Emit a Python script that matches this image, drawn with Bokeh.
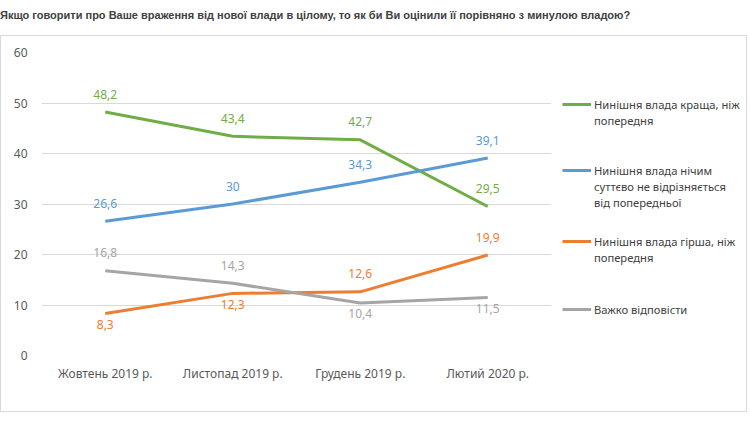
from bokeh.plotting import figure
from bokeh.models import (ColumnDataSource, Range1d, Legend, LegendItem, LabelSet,
                          Div, SingleIntervalTicker)
from bokeh.core.properties import value
from bokeh.layouts import column, row
from bokeh.embed import file_html
from bokeh.resources import INLINE

title_text = "Якщо говорити про Ваше враження від нової влади в цілому, то як би Ви оцінили її порівняно з минулою владою?"
categories = ["Жовтень 2019 р.", "Листопад 2019 р.", "Грудень 2019 р.", "Лютий 2020 р."]

better = [48.2, 43.4, 42.7, 29.5]
same = [26.6, 30.0, 34.3, 39.1]
worse = [8.3, 12.3, 12.6, 19.9]
hard = [16.8, 14.3, 10.4, 11.5]

series_names = [
    "Нинішня влада краща, ніж\nпопередня",
    "Нинішня влада нічим\nсуттєво не відрізняється\nвід попередньої",
    "Нинішня влада гірша, ніж\nпопередня",
    "Важко відповісти",
]
series_values = [better, same, worse, hard]
colors = ["#70AD47", "#5B9BD5", "#ED7D31", "#A5A5A5"]
# label placement relative to point (style)
placements = [
    ["above", "above", "above", "above"],
    ["above", "above", "above", "above"],
    ["below", "below", "above", "above"],
    ["above", "above", "below", "below"],
]

FONT = "Noto Sans"
TXT = "#595959"

p = figure(x_range=categories, y_range=Range1d(0, 60), width=550, height=375,
           output_backend="svg", toolbar_location=None,
           min_border_left=40, min_border_right=0, min_border_top=16, min_border_bottom=56)
p.outline_line_color = None
p.xgrid.grid_line_color = None
p.ygrid.grid_line_color = "#d9d9d9"
p.ygrid.grid_line_width = 1
p.yaxis.ticker = SingleIntervalTicker(interval=10)
for ax in (p.xaxis, p.yaxis):
    ax.axis_line_color = None
    ax.major_tick_line_color = None
    ax.minor_tick_line_color = None
    ax.major_tick_out = 0
    ax.major_tick_in = 0
    ax.major_label_text_font = FONT
    ax.major_label_text_font_size = "12px"
    ax.major_label_text_color = TXT
p.xaxis.major_label_standoff = 9
p.yaxis.major_label_standoff = 10
p.x_range.range_padding = 0

for name, vals, col, plc in zip(series_names, series_values, colors, placements):
    lbl = [f"{v:g}".replace(".", ",") for v in vals]
    offs = [18 if s == "above" else -11 for s in plc]
    src = ColumnDataSource(dict(x=categories, y=vals, lbl=lbl, off=offs))
    p.line("x", "y", source=src, line_color=col, line_width=3)
    ls = LabelSet(x="x", y="y", text="lbl", source=src, y_offset="off",
                  text_align="center", text_baseline="middle",
                  text_color=col, text_font=value(FONT), text_font_size="12px")
    p.add_layout(ls)

# legend panel (frame aligned with the chart frame)
lf = figure(width=195, height=375, x_range=Range1d(0, 1), y_range=Range1d(0, 1),
            output_backend="svg", toolbar_location=None,
            x_axis_type=None, y_axis_type=None,
            min_border_left=0, min_border_right=0, min_border_top=16, min_border_bottom=56)
lf.grid.visible = False
lf.outline_line_color = None

# transparent swatch for continuation lines of a wrapped legend label
blank = lf.line(x=[0], y=[0], line_alpha=0)

legend_y = [227, 145, 90, 38]
for name, col, ly in zip(series_names, colors, legend_y):
    # single-point line: draws nothing, only supplies the legend swatch
    r = lf.line(x=[0], y=[0], line_color=col, line_width=3)
    lines = name.split("\n")
    items = [LegendItem(label=lines[0], renderers=[r])]
    items += [LegendItem(label=ln, renderers=[blank]) for ln in lines[1:]]
    lg = Legend(items=items, location=(11, ly),
                glyph_width=29, glyph_height=16, label_height=16, label_standoff=3,
                padding=0, margin=0, border_line_color=None, background_fill_alpha=0,
                label_text_font=FONT, label_text_font_size="11.2px", label_text_color="#404040",
                spacing=0)
    lf.add_layout(lg)

title = Div(text=title_text, width=745, height=35,
            styles={"font-family": "'Liberation Sans Narrow', 'Liberation Sans', sans-serif",
                    "font-size": "11px", "font-weight": "bold", "color": "#404040",
                    "line-height": "30px", "margin": "0", "padding": "0", "white-space": "nowrap"})

chart = row(p, lf, spacing=0, styles={"border": "1px solid #d9d9d9"})
layout = column(title, chart, spacing=0)
open("out.html", "w").write(file_html(layout, INLINE))
